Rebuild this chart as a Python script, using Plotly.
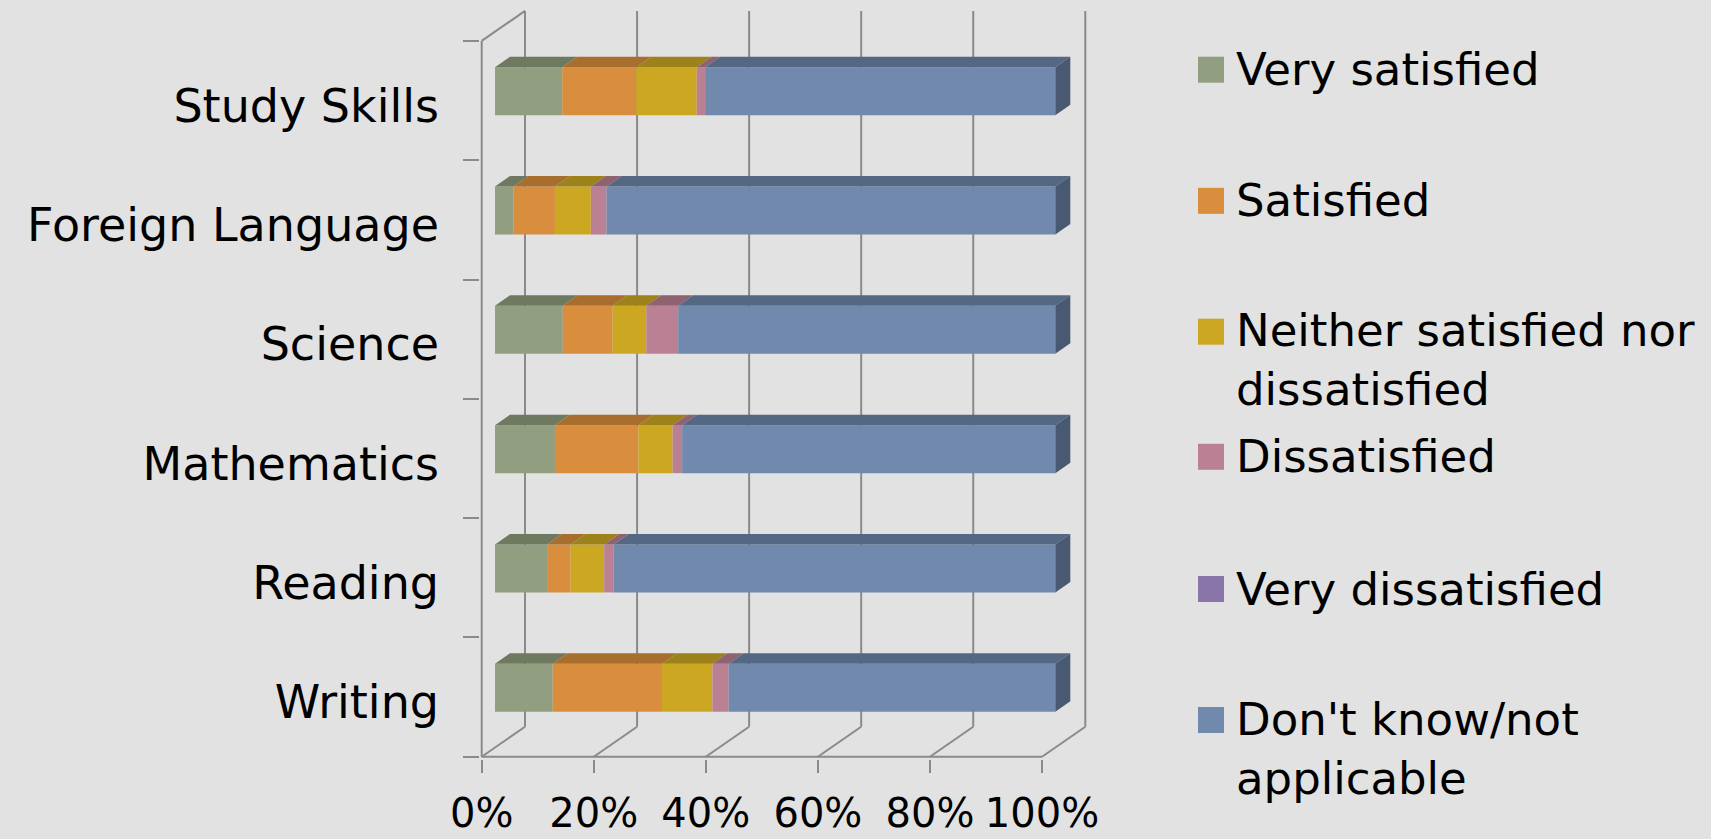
import plotly.graph_objects as go

# ---------------- data ----------------
categories = ["Study Skills", "Foreign Language", "Science", "Mathematics", "Reading", "Writing"]
series_names = ["Very satisfied", "Satisfied", "Neither satisfied nor dissatisfied",
                "Dissatisfied", "Very dissatisfied", "Don't know/not applicable"]
legend_labels = ["Very satisfied", "Satisfied", "Neither satisfied nor<br>dissatisfied",
                 "Dissatisfied", "Very dissatisfied", "Don't know/not<br>applicable"]
very_satisfied = [12.0, 3.3, 12.1, 10.7, 9.3, 10.3]
satisfied = [13.2, 7.4, 8.9, 14.9, 4.2, 19.5]
neither = [10.8, 6.4, 6.0, 6.1, 6.0, 9.0]
dissatisfied = [1.5, 2.8, 5.7, 1.7, 1.7, 2.9]
very_dissatisfied = [0.0, 0.0, 0.0, 0.0, 0.0, 0.0]
dont_know = [62.5, 80.1, 67.3, 66.6, 78.8, 58.3]
tick_values = [0, 20, 40, 60, 80, 100]
tick_labels = ["0%", "20%", "40%", "60%", "80%", "100%"]

series_values = [very_satisfied, satisfied, neither, dissatisfied, very_dissatisfied, dont_know]

# ---------------- styles ----------------
front_colors = ["#919e7f", "#d88e3c", "#cca822", "#ba8094", "#8975a8", "#7089ac"]
top_colors = ["#6e795f", "#a76e2e", "#9d811a", "#8f6272", "#675887", "#546883"]
side_color = "#485971"
grid_color = "#8a8a8a"
bg = "#e2e2e2"
FONT = "DejaVu Sans"

W, H = 1711, 839
ML, MR, MT, MB = 480, 619, 5, 80
PW, PH = W - ML - MR, H - MT - MB

PX_X = 5.603      # pixels per percent (front plane)
PX_Y = 119.3      # pixels per category
X0_PX = 481.7     # pixel of 0% on front plane
YF_PX = 756.7     # pixel of floor front edge (category boundary 5.5)

def xd(px):
    return (px - X0_PX) / PX_X

def yd(py):
    return 5.5 - (YF_PX - py) / PX_Y

x_range = [xd(ML), xd(ML + PW)]
y_range = [yd(MT + PH), yd(MT)]

# depth offsets (3-D projection) in data units
BACK_DX, BACK_DY = 43.3 / PX_X, -30.0 / PX_Y
BAR_DX, BAR_DY = 13.3 / PX_X, -9.3 / PX_Y
BAR_W = 48.0 / PX_Y
TOP_DX, TOP_DY = 15.0 / PX_X, -10.5 / PX_Y

n = len(categories)
fig = go.Figure()

# front faces
cum = [0.0] * n
bases = []
for s, vals in enumerate(series_values):
    bases.append(list(cum))
    fig.add_trace(go.Bar(
        orientation="h", name=series_names[s],
        y=[i + BAR_DY for i in range(n)], x=vals,
        base=[c + BAR_DX for c in cum], width=BAR_W,
        marker=dict(color=front_colors[s], line=dict(width=0)),
        showlegend=False, hoverinfo="skip",
    ))
    cum = [c + v for c, v in zip(cum, vals)]

# top faces
for s, vals in enumerate(series_values):
    xs, ys = [], []
    for i in range(n):
        x0 = bases[s][i] + BAR_DX
        x1 = x0 + vals[i]
        yt = i + BAR_DY - BAR_W / 2
        xs += [x0, x1, x1 + TOP_DX, x0 + TOP_DX, x0, None]
        ys += [yt, yt, yt + TOP_DY, yt + TOP_DY, yt, None]
    fig.add_trace(go.Scatter(x=xs, y=ys, mode="lines", fill="toself",
                             fillcolor=top_colors[s], line=dict(width=0),
                             showlegend=False, hoverinfo="skip"))

# right side faces
xs, ys = [], []
for i in range(n):
    xe = cum[i] + BAR_DX
    yt = i + BAR_DY - BAR_W / 2
    yb = i + BAR_DY + BAR_W / 2
    xs += [xe, xe, xe + TOP_DX, xe + TOP_DX, xe, None]
    ys += [yt, yb, yb + TOP_DY, yt + TOP_DY, yt, None]
fig.add_trace(go.Scatter(x=xs, y=ys, mode="lines", fill="toself",
                         fillcolor=side_color, line=dict(width=0),
                         showlegend=False, hoverinfo="skip"))

# walls / grid as shapes beneath traces
shapes = []
line = dict(color=grid_color, width=2)
top_v = -0.5 + BACK_DY
floor_back = 5.5 + BACK_DY
for t in tick_values:
    shapes.append(dict(type="line", xref="x", yref="y", layer="below",
                       x0=t + BACK_DX, x1=t + BACK_DX, y0=floor_back, y1=top_v, line=line))
    shapes.append(dict(type="line", xref="x", yref="y", layer="below",
                       x0=t, x1=t + BACK_DX, y0=5.5, y1=floor_back, line=line))
shapes.append(dict(type="line", xref="x", yref="y", layer="below",
                   x0=0, x1=BACK_DX, y0=-0.5, y1=top_v, line=line))
shapes.append(dict(type="line", xref="x", yref="y", layer="below",
                   x0=0, x1=0, y0=-0.5, y1=5.5, line=line))
shapes.append(dict(type="line", xref="x", yref="y", layer="below",
                   x0=0, x1=100, y0=5.5, y1=5.5, line=line))

# manual legend
def px2paper_x(px):
    return (px - ML) / PW

def px2paper_y(py):
    return 1 - (py - MT) / PH

legend_y = [69.7, 200.8, 331.7, 456.8, 589.0, 720.0]
LINE_H = 57.0
annotations = []
for s, lab in enumerate(legend_labels):
    cy = legend_y[s]
    shapes.append(dict(type="rect", xref="paper", yref="paper",
                       x0=px2paper_x(1198), x1=px2paper_x(1224),
                       y0=px2paper_y(cy + 13), y1=px2paper_y(cy - 13),
                       fillcolor=front_colors[s], line=dict(width=0)))
    nlines = lab.count("<br>") + 1
    annotations.append(dict(xref="paper", yref="paper", x=px2paper_x(1234),
                            y=px2paper_y(cy + (nlines - 1) * LINE_H / 2),
                            xanchor="left", yanchor="middle", align="left",
                            text=lab, showarrow=False,
                            font=dict(family=FONT, size=45, color="#000000")))

fig.update_layout(
    width=W, height=H,
    margin=dict(l=ML, r=MR, t=MT, b=MB, pad=0, autoexpand=False),
    paper_bgcolor=bg, plot_bgcolor=bg,
    barmode="overlay", showlegend=False,
    shapes=shapes, annotations=annotations,
    xaxis=dict(range=x_range, tickmode="array", tickvals=tick_values, ticktext=tick_labels,
               ticks="outside", ticklen=13, tickwidth=2, tickcolor=grid_color,
               showgrid=False, zeroline=False, showline=False, ticklabelstandoff=6,
               automargin=False,
               tickfont=dict(family=FONT, size=40, color="#000000"), fixedrange=True),
    yaxis=dict(range=y_range, tickmode="array", tickvals=list(range(n)), ticktext=categories,
               ticks="", showgrid=False, zeroline=False, showline=False,
               ticklabelstandoff=40, ticklabelshift=-5, automargin=False,
               minor=dict(tickmode="array", tickvals=[k - 0.5 for k in range(n + 1)],
                          ticks="outside", ticklen=16, tickwidth=2, tickcolor=grid_color,
                          showgrid=False),
               tickfont=dict(family=FONT, size=46, color="#000000"), fixedrange=True),
)

fig.write_html("out.html", config={"displayModeBar": False},
               post_script="document.body.style.margin='0';document.body.style.background='#e2e2e2';document.body.style.overflow='hidden';")
